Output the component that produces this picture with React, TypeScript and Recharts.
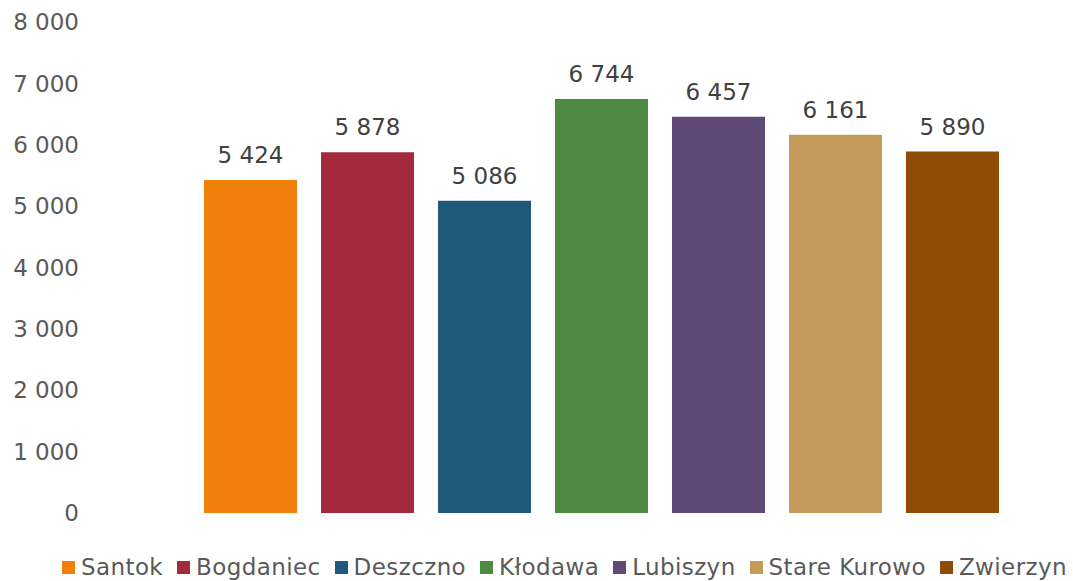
import { Bar, BarChart, LabelList, Legend, XAxis, YAxis } from "recharts";

const seriesNames = ["Santok", "Bogdaniec", "Deszczno", "Kłodawa", "Lubiszyn", "Stare Kurowo", "Zwierzyn"];
const seriesValues = [5424, 5878, 5086, 6744, 6457, 6161, 5890];
const seriesColors = ["#F07F0C", "#A22A3A", "#1E5979", "#4F8A42", "#5F4977", "#C49A5B", "#8F4A04"];
const yTicks = [0, 1000, 2000, 3000, 4000, 5000, 6000, 7000, 8000];

const row: Record<string, number | string> = { name: "" };
seriesNames.forEach((n, i) => (row[n] = seriesValues[i]));
const data = [row];

const FONT = "'DejaVu Sans', Verdana, sans-serif";

function fmt(v: number | string): string {
  return String(v).replace(/\B(?=(\d{3})+(?!\d))/g, " ");
}

function LegendContent() {
  return (
    <div
      style={{
        display: "flex",
        alignItems: "center",
        paddingLeft: 62,
        paddingTop: 40,
        height: 28,
        fontFamily: FONT,
        fontSize: 23,
        letterSpacing: 0.4,
        color: "#595959",
        whiteSpace: "nowrap",
      }}
    >
      {seriesNames.map((n, i) => (
        <div key={n} style={{ display: "flex", alignItems: "center", marginRight: 14 }}>
          <span style={{ width: 13, height: 13, background: seriesColors[i], marginRight: 6, display: "inline-block" }} />
          <span>{n}</span>
        </div>
      ))}
    </div>
  );
}

export default function App() {
  return (
    <div style={{ position: "absolute", left: 0, top: 0, width: 1073, height: 581, background: "#fff" }}>
      <BarChart
        width={1073}
        height={581}
        data={data}
        margin={{ top: 22, right: 0, left: 0, bottom: 0 }}
        barSize={93}
        barGap={24}
      >
        <XAxis dataKey="name" hide padding={{ left: 51, right: 0 }} />
        <YAxis
          domain={[0, 8000]}
          ticks={yTicks}
          width={79}
          axisLine={false}
          tickLine={false}
          tickSize={0}
          tickMargin={0}
          tickFormatter={fmt}
          tick={{ fill: "#595959", fontSize: 23, fontFamily: FONT }}
        />
        <Legend verticalAlign="bottom" content={<LegendContent />} wrapperStyle={{ height: 68 }} />
        {seriesNames.map((n, i) => (
          <Bar key={n} dataKey={n} fill={seriesColors[i]} isAnimationActive={false}>
            <LabelList
              dataKey={n}
              position="top"
              offset={17}
              formatter={(v: number) => fmt(v)}
              style={{ fill: "#404040", fontSize: 23, fontFamily: FONT }}
            />
          </Bar>
        ))}
      </BarChart>
    </div>
  );
}
